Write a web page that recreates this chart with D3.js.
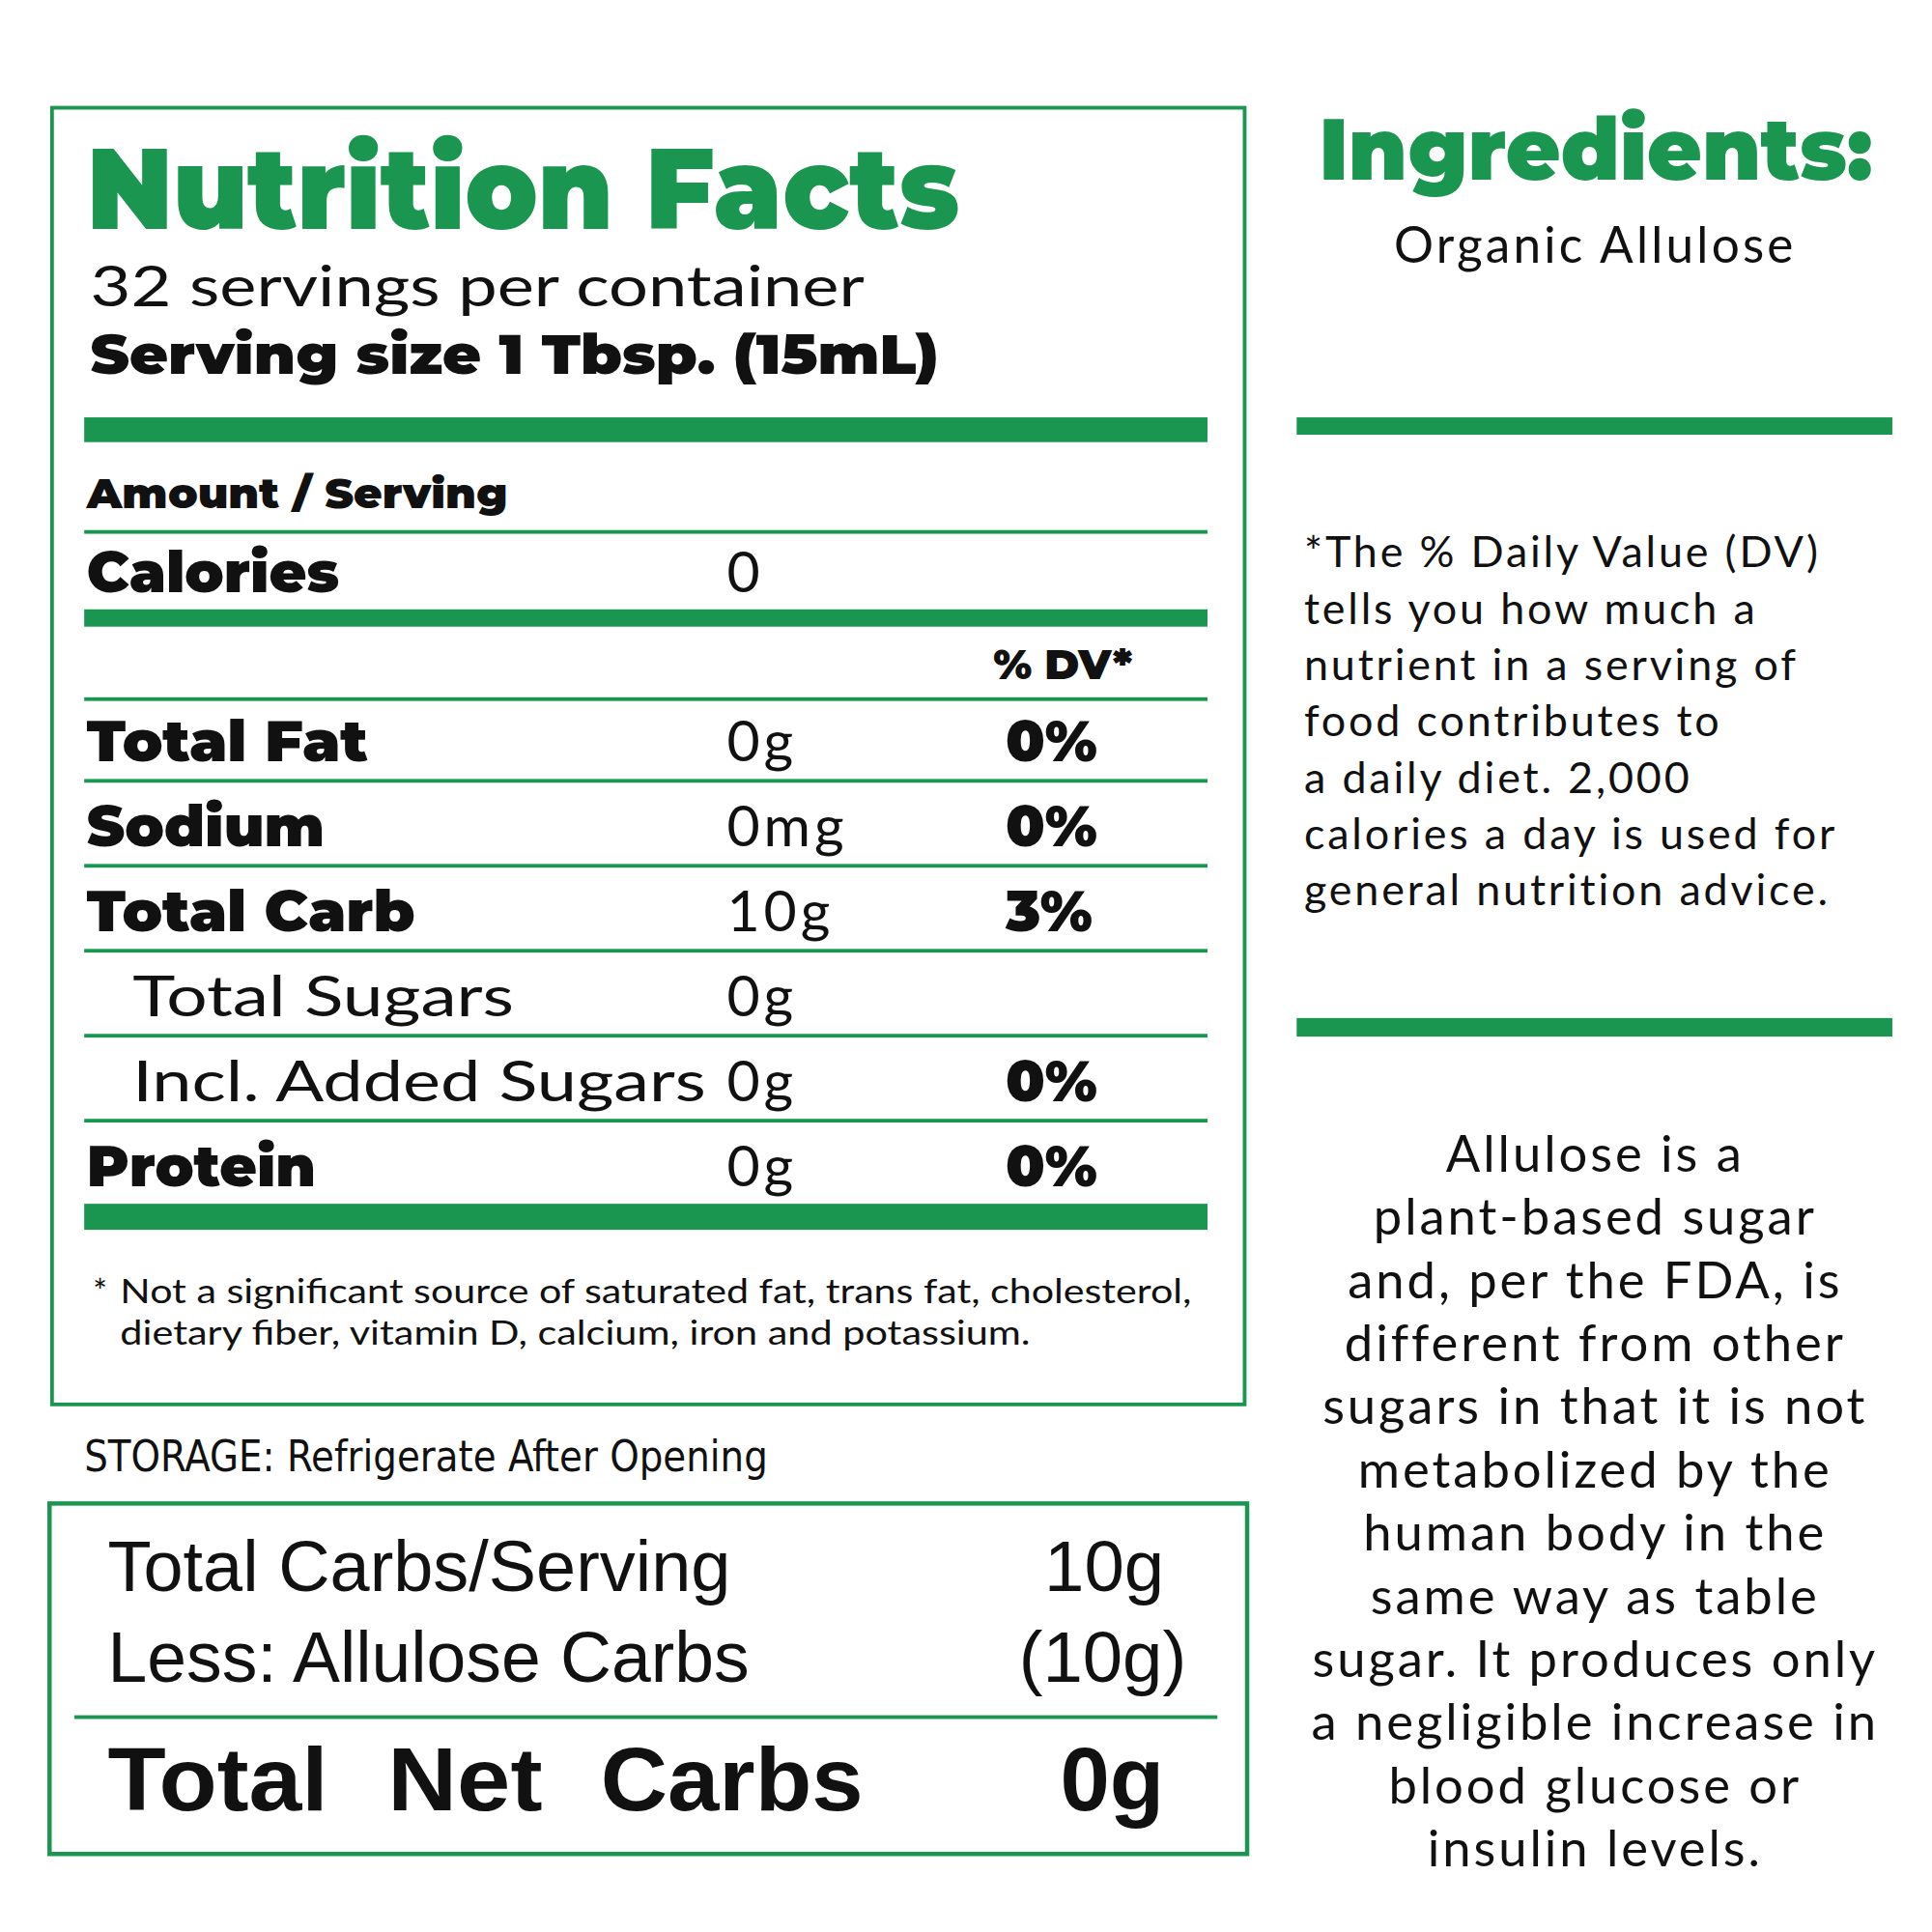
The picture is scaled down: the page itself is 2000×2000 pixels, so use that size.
<!DOCTYPE html>
<html><head><meta charset="utf-8">
<script src="https://cdn.jsdelivr.net/npm/d3@7"></script>
<style>body{margin:0;background:#fff}</style>
</head><body>
<svg id="chart" width="2000" height="2000" viewBox="0 0 1560 1560"></svg>
<script>
const GREEN = "#1a9651";
const BOLD = "Montserrat, Lato, 'Open Sans', sans-serif";

const nutrients = ["Total Fat", "Sodium", "Total Carb", "Total Sugars", "Incl. Added Sugars", "Protein"];
const amounts = ["0g", "0mg", "10g", "0g", "0g", "0g"];
const dailyValues = ["0%", "0%", "3%", "", "0%", "0%"];
const indented = [false, false, false, true, true, false];
const dvNote = ["*The % Daily Value (DV)", "tells you how much a", "nutrient in a serving of",
  "food contributes to", "a daily diet. 2,000", "calories a day is used for", "general nutrition advice."];
const allulose = ["Allulose is a", "plant-based sugar", "and, per the FDA, is", "different from other",
  "sugars in that it is not", "metabolized by the", "human body in the", "same way as table",
  "sugar. It produces only", "a negligible increase in", "blood glucose or", "insulin levels."];
const carbLabels = ["Total Carbs/Serving", "Less: Allulose Carbs"];
const carbValues = ["10g", "(10g)"];

const svg = d3.select("#chart");

function txt(x, y, s, size, weight, opts = {}) {
  const t = svg.append("text").attr("x", x).attr("y", y).text(s)
    .attr("font-size", size).attr("font-weight", weight || 400)
    .attr("font-family", opts.family || "Lato, 'Open Sans', sans-serif")
    .attr("fill", opts.fill || "#111")
    .attr("text-anchor", opts.anchor || "start")
    .attr("letter-spacing", opts.ls || 0);
  if (opts.len) t.attr("textLength", opts.len).attr("lengthAdjust", "spacingAndGlyphs");
  return t;
}
function bar(x1, x2, y, h) {
  svg.append("rect").attr("x", x1).attr("y", y).attr("width", x2 - x1).attr("height", h).attr("fill", GREEN);
}

// main box
svg.append("rect").attr("x", 42).attr("y", 87).attr("width", 963).attr("height", 1047)
  .attr("fill", "none").attr("stroke", GREEN).attr("stroke-width", 3);
txt(70, 185, "Nutrition Facts", 92, 900, {fill: GREEN, family: BOLD, len: 705});
txt(73, 247, "32 servings per container", 46, 400, {len: 625});
txt(73, 302, "Serving size 1 Tbsp. (15mL)", 45, 900, {family: BOLD, len: 685});
bar(68, 975, 337, 20);
txt(70, 410, "Amount / Serving", 34, 900, {family: BOLD, len: 340});
bar(68, 975, 428, 3);
txt(70, 478, "Calories", 46, 900, {family: BOLD, len: 204});
txt(587, 478, "0", 46, 400);
bar(68, 975, 492, 14);
txt(802, 548, "% DV*", 34, 900, {family: BOLD});
bar(68, 975, 563, 3);

const rowLen = [227, 192, 265, 308, 463, 185];
const y = d3.scaleLinear().domain([0, nutrients.length - 1]).range([615, 958]);
nutrients.forEach((n, i) => {
  const ind = indented[i];
  txt(ind ? 107 : 70, y(i), n, 46, ind ? 400 : 900, {family: ind ? undefined : BOLD, len: rowLen[i]});
  txt(587, y(i), amounts[i], 46, 400, {ls: 3});
  if (dailyValues[i]) txt(812, y(i), dailyValues[i], 46, 900, {family: BOLD});
  if (i < nutrients.length - 1) bar(68, 975, y(i) + 14, 3);
});
bar(68, 975, 972, 21);
txt(75, 1052, "*", 27, 400);
txt(97, 1052, "Not a significant source of saturated fat, trans fat, cholesterol,", 27, 400, {len: 865});
txt(97, 1086, "dietary fiber, vitamin D, calcium, iron and potassium.", 27, 400, {len: 735});

txt(68, 1188, "STORAGE: Refrigerate After Opening", 34, 400, {family: "'Liberation Sans Narrow', 'DejaVu Sans Condensed', sans-serif", len: 552});

// net carbs box
svg.append("rect").attr("x", 40).attr("y", 1214).attr("width", 967).attr("height", 283)
  .attr("fill", "none").attr("stroke", GREEN).attr("stroke-width", 3.5);
const cy = d3.scalePoint().domain(carbLabels).range([1285, 1358]);
const carbLen = [503, 518];
carbLabels.forEach((c, i) => {
  txt(87, cy(c), c, 58, 400, {family: "'Liberation Sans', Arial, sans-serif", len: carbLen[i]});
  txt(i ? 958 : 940, cy(c), carbValues[i], 58, 400, {family: "'Liberation Sans', Arial, sans-serif", anchor: "end"});
});
bar(60, 983, 1385, 3);
const netLen = [178, 125, 212];
["Total", "Net", "Carbs"].forEach((w, i) => txt([87, 313, 485][i], 1462, w, 72, 900, {family: "'Liberation Sans', Arial, sans-serif", len: netLen[i]}));
txt(940, 1462, "0g", 72, 900, {family: "'Liberation Sans', Arial, sans-serif", anchor: "end"});

// right column
txt(1065, 145, "Ingredients:", 70, 900, {fill: GREEN, family: BOLD, len: 447});
txt(1288, 212, "Organic Allulose", 40, 400, {anchor: "middle", ls: 2.5});
bar(1047, 1528, 337, 14);
const dy = d3.scaleLinear().domain([0, dvNote.length - 1]).range([458, 731]);
dvNote.forEach((l, i) => txt(1053, dy(i), l, 35, 400, {ls: 2.2}));
bar(1047, 1528, 822, 15);
const ay = d3.scaleLinear().domain([0, allulose.length - 1]).range([946, 1507]);
allulose.forEach((l, i) => txt(1288, ay(i), l, 41, 400, {anchor: "middle", ls: 2.3}));
</script>
</body></html>
